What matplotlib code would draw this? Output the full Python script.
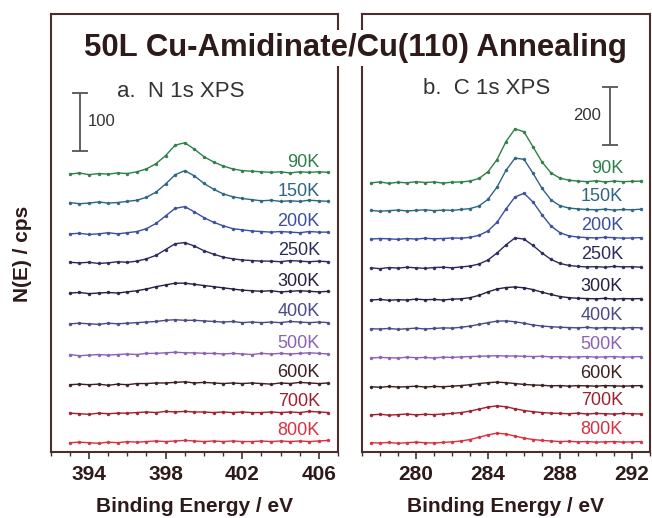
import numpy as np
import matplotlib
matplotlib.use("Agg")
import matplotlib.pyplot as plt
from matplotlib.ticker import MultipleLocator

plt.rcParams['font.family'] = ['Liberation Sans', 'DejaVu Sans']

# temperatures and colours (same for both panels)
temps = ['90K', '150K', '200K', '250K', '300K', '400K', '500K', '600K', '700K', '800K']
colors = ['#2e7f4a', '#2d6680', '#3c4ea0', '#2b2a5e', '#2a1f45',
          '#4a4a8a', '#8a62b8', '#3a2020', '#a02030', '#d83040']

# N 1s : binding energy grid (eV) and intensities above each baseline (cps)
n_energy = np.arange(393.0, 406.6, 0.5)
n_ticks = [394, 398, 402, 406]
n_offset = [479, 429, 376, 326, 274, 221, 167, 116, 66, 16]
n_90 = [0, 2, -1, 1, 0, 2, 1, 4, 9, 18, 32, 50, 54, 43, 30, 21, 14, 9, 6, 5, 4, 3, 4, 2, 4, 3, 4, 3]
n_150 = [1, -1, 0, 2, 0, 1, 3, 5, 10, 19, 33, 49, 56, 47, 34, 24, 16, 11, 8, 6, 4, 5, 3, 4, 3, 5, 4, 3]
n_200 = [0, 1, -1, 0, 2, 0, 2, 4, 9, 18, 31, 44, 47, 38, 28, 20, 14, 9, 7, 5, 4, 3, 4, 3, 2, 4, 3, 3]
n_250 = [1, 0, 1, -1, 0, 2, 1, 3, 7, 13, 23, 33, 35, 29, 21, 15, 10, 7, 5, 4, 3, 3, 2, 4, 3, 2, 3, 2]
n_300 = [0, 1, -1, 0, 1, 0, 2, 4, 7, 11, 14, 17, 17, 15, 13, 11, 9, 7, 5, 4, 3, 4, 2, 3, 4, 3, 2, 3]
n_400 = [0, 1, 0, -1, 1, 0, 1, 2, 3, 4, 6, 7, 6, 6, 5, 4, 3, 4, 2, 3, 2, 3, 2, 4, 3, 2, 3, 2]
n_500 = [1, -1, 0, 1, 0, 1, 2, 1, 3, 3, 4, 5, 4, 4, 3, 3, 2, 3, 2, 1, 3, 2, 3, 2, 3, 4, 3, 2]
n_600 = [0, 1, 0, 1, -1, 1, 0, 2, 2, 3, 3, 4, 5, 3, 4, 3, 2, 3, 2, 3, 2, 1, 3, 2, 4, 3, 2, 3]
n_700 = [1, 0, -1, 1, 0, 1, 1, 2, 3, 2, 4, 3, 4, 3, 3, 2, 3, 2, 3, 2, 2, 3, 2, 3, 2, 4, 3, 2]
n_800 = [0, 1, 0, -1, 1, 0, 2, 1, 2, 3, 2, 3, 4, 3, 2, 3, 2, 3, 2, 2, 3, 2, 3, 2, 3, 2, 3, 4]
n_spectra = [n_90, n_150, n_200, n_250, n_300, n_400, n_500, n_600, n_700, n_800]

# C 1s
c_energy = np.arange(277.5, 292.6, 0.5)
c_ticks = [280, 284, 288, 292]
c_offset = [928, 831, 734, 634, 524, 424, 324, 224, 128, 31]
c_90 = [0, 3, -2, 2, 0, 4, 1, 3, -1, 2, 3, 6, 15, 38, 80, 142, 186, 176, 124, 72, 34, 16, 9, 6, 4, 7, 3, 6, 4, 5, 6]
c_150 = [2, -1, 1, 3, 0, 2, 4, 1, 3, 2, 5, 8, 17, 40, 82, 140, 182, 178, 130, 78, 38, 18, 10, 7, 5, 4, 6, 3, 5, 4, 6]
c_200 = [0, 2, 1, -1, 2, 0, 3, 1, 2, 4, 3, 6, 13, 28, 58, 104, 145, 158, 128, 84, 45, 22, 11, 7, 5, 4, 6, 5, 3, 4, 5]
c_250 = [1, -2, 2, 0, 3, 1, -1, 2, 3, 1, 4, 7, 14, 28, 52, 80, 104, 100, 78, 52, 30, 16, 9, 6, 4, 5, 3, 6, 4, 5, 3]
c_300 = [0, 2, -1, 1, 0, 3, 1, 2, 0, 3, 4, 8, 16, 28, 38, 43, 45, 42, 36, 27, 19, 12, 8, 6, 5, 4, 6, 3, 5, 4, 5]
c_400 = [1, 0, 2, -1, 1, 3, 0, 2, 4, 3, 6, 10, 16, 22, 27, 28, 25, 20, 14, 10, 8, 6, 5, 4, 6, 3, 5, 4, 3, 5, 4]
c_500 = [0, 2, 1, 0, 3, 1, 2, 0, 3, 2, 4, 5, 6, 7, 8, 7, 7, 6, 5, 6, 4, 5, 3, 4, 5, 3, 4, 5, 3, 4, 5]
c_600 = [1, -1, 2, 0, 1, 3, 0, 2, 1, 3, 5, 8, 12, 15, 17, 15, 12, 9, 7, 6, 4, 5, 3, 5, 4, 3, 5, 4, 3, 4, 5]
c_700 = [0, 2, -1, 1, 3, 0, 2, 1, 3, 5, 8, 13, 20, 27, 31, 28, 21, 15, 11, 8, 6, 5, 4, 6, 3, 5, 4, 3, 5, 4, 3]
c_800 = [1, 0, 2, -1, 1, 3, 1, 0, 2, 4, 7, 12, 20, 28, 34, 31, 24, 17, 12, 9, 7, 5, 6, 4, 5, 3, 4, 5, 3, 4, 5]
c_spectra = [c_90, c_150, c_200, c_250, c_300, c_400, c_500, c_600, c_700, c_800]

dark = '#2e1a1a'
frame = '#4a2e2e'

fig = plt.figure(figsize=(6.52, 5.18), dpi=100)
ax1 = fig.add_axes([0.0778, 0.1274, 0.4406, 0.8456])
ax2 = fig.add_axes([0.5552, 0.1274, 0.4417, 0.8456])

panels = [
    (ax1, n_energy, n_spectra, n_offset, n_ticks, (392, 407), (0, 755), 406.05, 12, 100, 393.53, 569),
    (ax2, c_energy, c_spectra, c_offset, c_ticks, (277, 293), (0, 1510), 291.5, 14, 200, 290.77, 1159),
]

for ax, en, spectra, offs, ticks, xl, yl, lab_x, lab_dy, bar, bar_x, bar_y in panels:
    for spec, off, col, t in zip(spectra, offs, colors, temps):
        y = np.array(spec) + off
        ax.plot(en, y, color=col, lw=1.0)
        ax.plot(en, y, ls='none', marker='.', ms=3, color=col, alpha=0.9)
        ax.annotate(t, xy=(lab_x, off), xytext=(0, lab_dy), textcoords='offset pixels',
                    ha='right', va='center', fontsize=13, color=col)
    ax.set_xlim(*xl)
    ax.set_ylim(*yl)
    ax.set_yticks([])
    ax.set_xticks(ticks)
    ax.xaxis.set_minor_locator(MultipleLocator(1))
    ax.tick_params(axis='x', which='major', direction='out', length=5, width=1.2,
                   color=frame, labelsize=15, labelcolor=dark, pad=4)
    ax.tick_params(axis='x', which='minor', direction='out', length=3, width=1, color=frame)
    for lbl in ax.get_xticklabels():
        lbl.set_fontweight('bold')
    for s in ax.spines.values():
        s.set_color(frame)
        s.set_linewidth(1.5)
    ax.set_xlabel('Binding Energy / eV', fontsize=15, fontweight='bold', color=dark, labelpad=10)
    # scale bar
    ax.errorbar(bar_x, bar_y, yerr=bar / 2, color='#555555', lw=1.3, capsize=6, capthick=1.3)

ax1.text(393.95, 569, '100', fontsize=12, color='#333333', ha='left', va='center')
ax2.text(290.27, 1159, '200', fontsize=12, color='#333333', ha='right', va='center')
ax1.text(0.454, 0.824, 'a.  N 1s XPS', transform=ax1.transAxes, fontsize=16,
         color='#333333', ha='center', va='center')
ax2.text(0.434, 0.831, 'b.  C 1s XPS', transform=ax2.transAxes, fontsize=16,
         color='#333333', ha='center', va='center')

fig.text(0.035, 0.51, 'N(E) / cps', rotation=90, fontsize=15, fontweight='bold',
         color=dark, ha='center', va='center')
fig.text(0.545, 0.907, '50L Cu-Amidinate/Cu(110) Annealing', fontsize=22.4, fontweight='bold',
         color=dark, ha='center', va='center',
         bbox=dict(facecolor='white', edgecolor='none', pad=2))

fig.savefig('out.png', dpi=100)
